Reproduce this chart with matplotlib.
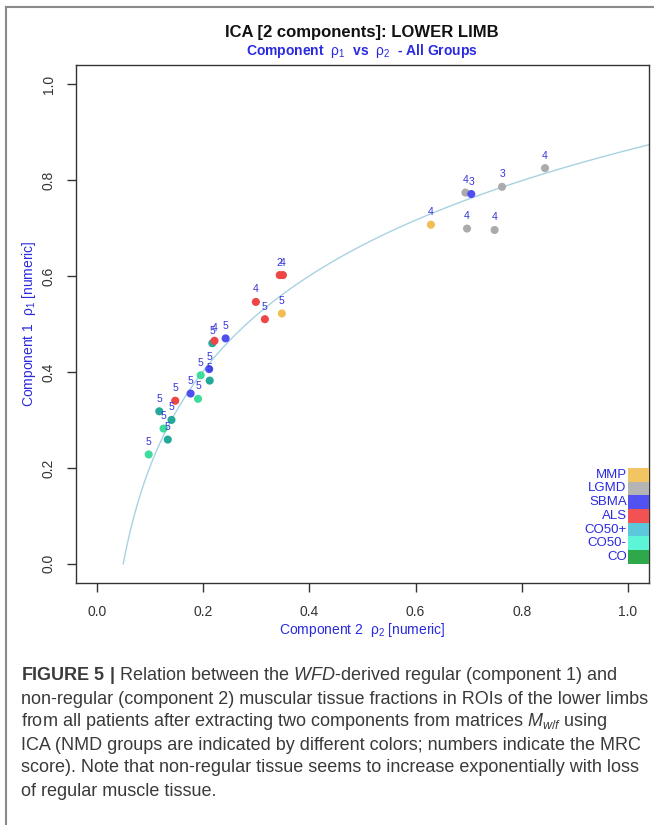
import numpy as np
import matplotlib.pyplot as plt
from matplotlib.patches import Rectangle

plt.rcParams['font.family'] = ['Liberation Sans', 'DejaVu Sans']
plt.rcParams['mathtext.fontset'] = 'custom'
plt.rcParams['mathtext.rm'] = 'Liberation Sans'
plt.rcParams['mathtext.it'] = 'Liberation Sans:italic'
plt.rcParams['mathtext.bf'] = 'Liberation Sans:bold'

# data
rho2 = [0.844, 0.763, 0.694, 0.705, 0.629, 0.697, 0.749, 0.344, 0.350, 0.299,
        0.316, 0.348, 0.242, 0.217, 0.221, 0.211, 0.195, 0.212, 0.176, 0.190,
        0.147, 0.117, 0.140, 0.125, 0.133, 0.097]
rho1 = [0.825, 0.786, 0.774, 0.771, 0.707, 0.699, 0.696, 0.602, 0.602, 0.546,
        0.510, 0.522, 0.470, 0.460, 0.465, 0.406, 0.393, 0.382, 0.355, 0.344,
        0.340, 0.318, 0.300, 0.282, 0.259, 0.228]
group = ['LGMD', 'LGMD', 'LGMD', 'SBMA', 'MMP', 'LGMD', 'LGMD', 'ALS', 'ALS', 'ALS',
         'ALS', 'MMP', 'SBMA', 'CO50+', 'ALS', 'SBMA', 'CO50-', 'CO50+', 'SBMA', 'CO50-',
         'ALS', 'CO50+', 'CO50+', 'CO50-', 'CO50+', 'CO50-']
mrc = [4, 3, 4, 3, 4, 4, 4, 2, 4, 4,
       5, 5, 5, 5, 4, 5, 5, 5, 5, 5,
       5, 5, 5, 5, 5, 5]

legend_groups = ['MMP', 'LGMD', 'SBMA', 'ALS', 'CO50+', 'CO50-', 'CO']
legend_colors = ['#F2C462', '#B4B4B4', '#5252F2', '#F25252', '#5CC8DC', '#5CF5D8', '#2EA84A']
point_colors = {'MMP': '#F0BE52', 'LGMD': '#ABABAB', 'SBMA': '#4F4FF0', 'ALS': '#EE4646',
                'CO50+': '#24A898', 'CO50-': '#3DDB9C', 'CO': '#2EA84A'}

# log fit: rho1 = a * ln(rho2 / x0)
fit_a = 0.286
fit_x0 = 0.049

fig = plt.figure(figsize=(6.54, 8.25), dpi=100)
ax = fig.add_axes([76 / 654, 1 - 583 / 825, 573 / 654, 518 / 825])

xs = np.linspace(fit_x0, 1.06, 300)
ax.plot(xs, fit_a * np.log(xs / fit_x0), color='#A8D2E2', lw=1.0, zorder=1)

for x, y, g, m in zip(rho2, rho1, group, mrc):
    ax.scatter(x, y, s=34, color=point_colors[g], edgecolors='none', zorder=2)
    ax.annotate(str(m), (x, y), xytext=(0, 9), textcoords='offset points',
                ha='center', va='center', fontsize=7.5, color='#3535D8', zorder=3)

# colour key at the right edge
box_h = 0.2 / len(legend_groups)
for i, (g, c) in enumerate(zip(legend_groups, legend_colors)):
    y0 = 0.2 - (i + 1) * box_h
    ax.add_patch(Rectangle((1.0, y0), 0.045, box_h, color=c, lw=0, zorder=4))
    ax.text(0.998, y0 + box_h / 2, g, ha='right', va='center', fontsize=9.5,
            color='#2A2AE0', zorder=5)

ax.set_xlim(-0.04, 1.04)
ax.set_ylim(-0.04, 1.04)
ax.set_xticks([0.0, 0.2, 0.4, 0.6, 0.8, 1.0])
ax.set_yticks([0.0, 0.2, 0.4, 0.6, 0.8, 1.0])
ax.set_xticklabels(['0.0', '0.2', '0.4', '0.6', '0.8', '1.0'])
ax.set_yticklabels(['0.0', '0.2', '0.4', '0.6', '0.8', '1.0'], rotation=90, va='center')
ax.tick_params(length=6.5, width=1, colors='#333333', labelsize=10, pad=9)
ax.tick_params(axis='y', pad=8)
for s in ax.spines.values():
    s.set_color('#333333')
    s.set_linewidth(1)

ax.set_xlabel(r'Component 2  $\mathrm{\rho_2}$ [numeric]', color='#2A2AE0', fontsize=10, labelpad=2)
ax.set_ylabel(r'Component 1  $\mathrm{\rho_1}$ [numeric]', color='#2A2AE0', fontsize=10, labelpad=3)

fig.text(362 / 654, 1 - 33 / 825, 'ICA [2 components]: LOWER LIMB', ha='center', va='center',
         fontsize=12, fontweight='bold', color='#111111')
fig.text(362 / 654, 1 - 51 / 825, r'Component  $\mathrm{\rho_1}$  vs  $\mathrm{\rho_2}$  - All Groups',
         ha='center', va='center', fontsize=10, fontweight='bold', color='#2A2AE0')

# caption below the plot
caption = [
    r'$\mathbf{FIGURE\ 5\ |}$ Relation between the $\mathit{WFD}$-derived regular (component 1) and',
    'non-regular (component 2) muscular tissue fractions in ROIs of the lower limbs',
    r'from all patients after extracting two components from matrices $M_{w/f}$ using',
    'ICA (NMD groups are indicated by different colors; numbers indicate the MRC',
    'score). Note that non-regular tissue seems to increase exponentially with loss',
    'of regular muscle tissue.',
]
for i, line in enumerate(caption):
    fig.text(21 / 654, 1 - (676 + i * 23) / 825, line, ha='left', va='center',
             fontsize=13, color='#3A3A3A')

# outer panel frame
fig.add_artist(plt.Line2D([6 / 654, 6 / 654], [0, 1 - 7 / 825], color='#8A8A8A', lw=1.5,
                          transform=fig.transFigure))
fig.add_artist(plt.Line2D([6 / 654, 1], [1 - 7 / 825, 1 - 7 / 825], color='#8A8A8A', lw=1.5,
                          transform=fig.transFigure))

fig.savefig('out.png', dpi=100)
